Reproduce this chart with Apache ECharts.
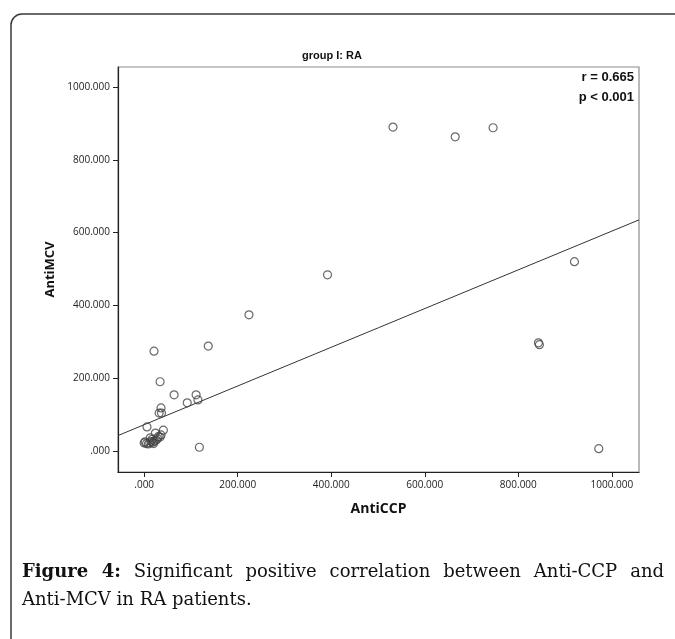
<!DOCTYPE html>
<html>
<head>
<meta charset="utf-8">
<script src="https://cdn.jsdelivr.net/npm/echarts@6/dist/echarts.min.js"></script>
<style>
  html, body { margin: 0; padding: 0; background: #fff; }
  #wrap { position: relative; width: 675px; height: 639px; overflow: hidden; }
  #chart { position: absolute; left: 0; top: 0; width: 675px; height: 639px; }
  #caption {
    position: absolute; left: 22px; top: 557px; width: 642px;
    font-family: 'DejaVu Serif', 'Liberation Serif', serif; font-size: 18px;
    line-height: 28px; color: #111; text-align: justify;
  }
  #caption b { font-weight: bold; }
  #caption span { white-space: nowrap; }
</style>
</head>
<body>
<div id="wrap">
  <div id="chart"></div>
  <div id="caption"><b>Figure 4:</b> Significant positive correlation between Anti-CCP and <span>Anti-MCV</span> in RA patients.</div>
</div>
<script>
// values
const antiCCP = [
  532, 665, 746, 920, 843, 845, 972, 392, 224, 137,
  21, 34, 64, 111, 92, 115, 36, 32, 37, 6,
  118, 41, 24, 36, 30, 34, 13, 28, 17, 26,
  22, 2, 15, 19, 0, 12, 5, 9, 20
];
const antiMCV = [
  890, 863, 888, 520, 297, 292, 6, 484, 374, 288,
  274, 190, 154, 154, 132, 140, 118, 104, 104, 66,
  10, 57, 49, 44, 39, 38, 36, 34, 32, 30,
  27, 25, 26, 24, 22, 22, 20, 19, 20
];
const tickValues = [0, 200, 400, 600, 800, 1000];
// fit line shown in the figure
const fitIntercept = 72;
const fitSlope = 0.532;
const corrText = ['r = 0.665', 'p < 0.001'];

const xMin = -56;
const xMax = 1058;
const yMin = -58;
const yMax = 1055;

const points = antiCCP.map((x, i) => [x, antiMCV[i]]);
const fitLine = [xMin, xMax].map((x) => [x, fitIntercept + fitSlope * x]);

const fmt = (v) => (v === 0 ? '.000' : v.toFixed(3));
const tickFont = {
  fontFamily: 'Open Sans', fontSize: 10, color: '#222'
};

const chart = echarts.init(document.getElementById('chart'));
chart.setOption({
  animation: false,
  grid: {
    left: 118, right: 36, top: 67, bottom: 167,
    show: true, borderColor: '#8c8c8c', borderWidth: 1.2
  },
  graphic: [
    {
      type: 'rect',
      shape: { x: 11, y: 14, width: 800, height: 700, r: 11 },
      style: { fill: 'none', stroke: '#3a3a3a', lineWidth: 1.5 }
    },
    {
      type: 'text', x: 332, y: 56,
      style: {
        text: 'group I: RA', align: 'center', verticalAlign: 'middle',
        font: 'bold 11px "Liberation Sans", Arial', fill: '#111'
      }
    },
    {
      type: 'text', x: 634, y: 87,
      style: {
        text: corrText.join('\n'), align: 'right', verticalAlign: 'middle',
        font: 'bold 13px "Liberation Sans", Arial', lineHeight: 20, fill: '#111'
      }
    }
  ],
  xAxis: {
    type: 'value', min: xMin, max: xMax,
    name: 'AntiCCP', nameLocation: 'middle', nameGap: 30,
    nameTextStyle: { fontFamily: 'Open Sans', fontWeight: 'bold', fontSize: 14, color: '#111' },
    axisLine: { onZero: false, lineStyle: { color: '#222', width: 1.2 } },
    axisTick: { show: true, length: 5, customValues: tickValues, lineStyle: { color: '#222' } },
    axisLabel: Object.assign({ margin: 8, customValues: tickValues, formatter: fmt }, tickFont),
    splitLine: { show: false }
  },
  yAxis: {
    type: 'value', min: yMin, max: yMax,
    name: 'AntiMCV', nameLocation: 'middle', nameGap: 51, nameRotate: 90,
    nameTextStyle: { fontFamily: 'Open Sans', fontWeight: 'bold', fontSize: 13, color: '#111' },
    axisLine: { show: true, onZero: false, lineStyle: { color: '#222', width: 1.2 } },
    axisTick: { show: true, length: 5, customValues: tickValues, lineStyle: { color: '#222' } },
    axisLabel: Object.assign({ margin: 8, customValues: tickValues, formatter: fmt }, tickFont),
    splitLine: { show: false }
  },
  series: [
    {
      type: 'line',
      data: fitLine,
      showSymbol: false,
      lineStyle: { color: '#333', width: 1 },
      z: 2
    },
    {
      type: 'scatter',
      data: points,
      symbol: 'circle',
      symbolSize: 8,
      itemStyle: { color: 'rgba(0,0,0,0)', borderColor: '#444', borderWidth: 1.2 },
      z: 3
    }
  ]
});
</script>
</body>
</html>
